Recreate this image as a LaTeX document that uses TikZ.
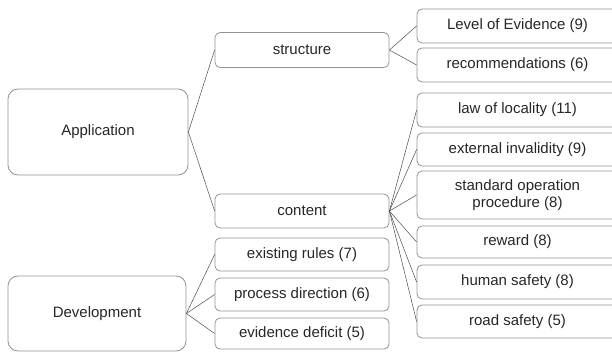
\documentclass[tikz,border=0pt]{standalone}
\usepackage{fontspec}
\setmainfont{Liberation Sans}
\begin{document}
\begin{tikzpicture}
        [x=1pt, y=-1pt,
        box/.style={draw=gray!85, line width=0.8pt, rounded corners=5pt, inner sep=0pt,
            align=center, text=black!85, font=\fontsize{15}{17}\selectfont},
        bigbox/.style={box, rounded corners=10pt},
        leaf/.style={box, minimum width=201pt},
        mid/.style={box, minimum width=174pt},
        edge/.style={gray!60!black, line width=0.5pt}]

        \useasboundingbox (0,0) rectangle (612,352);
        \clip (0,0) rectangle (612,352);

        % main categories
        \node[bigbox, minimum width=180pt, minimum height=86pt] (app) at (98,132) {Application};
        \node[bigbox, minimum width=178pt, minimum height=75pt] (dev) at (97,313.5) {Development};

        % second level
        \node[mid, minimum height=35pt] (struct) at (302,50) {structure};
        \node[mid, minimum height=34pt] (content) at (302,211) {content};
        \node[mid, minimum height=33pt] (exist) at (302,254.5) {existing rules (7)};
        \node[mid, minimum height=33pt] (procdir) at (302,294.5) {process direction (6)};
        \node[mid, minimum height=31pt] (evdef) at (302,333.5) {evidence deficit (5)};

        % leaves
        \node[leaf, minimum height=34pt] (loe) at (517.5,26) {Level of Evidence (9)};
        \node[leaf, minimum height=34pt] (rec) at (517.5,65) {recommendations (6)};
        \node[leaf, minimum height=34pt] (law) at (517.5,110) {law of locality (11)};
        \node[leaf, minimum height=33pt] (ext) at (517.5,149.5) {external invalidity (9)};
        \node[leaf, minimum height=48pt] (sop) at (517.5,195) {standard operation\\procedure (8)};
        \node[leaf, minimum height=32pt] (rew) at (517.5,242) {reward (8)};
        \node[leaf, minimum height=34pt] (hum) at (517.5,282) {human safety (8)};
        \node[leaf, minimum height=33pt] (road) at (517.5,321.5) {road safety (5)};

        % connectors
        \draw[edge] (app.east) -- (struct.west);
        \draw[edge] (app.east) -- (content.west);
        \draw[edge] (struct.east) -- (loe.west);
        \draw[edge] (struct.east) -- (rec.west);
        \foreach \n in {law, ext, sop, rew, hum, road}
            \draw[edge] (content.east) -- (\n.west);
        \foreach \n in {exist, procdir, evdef}
            \draw[edge] (dev.east) -- (\n.west);

    \end{tikzpicture}
\end{document}
